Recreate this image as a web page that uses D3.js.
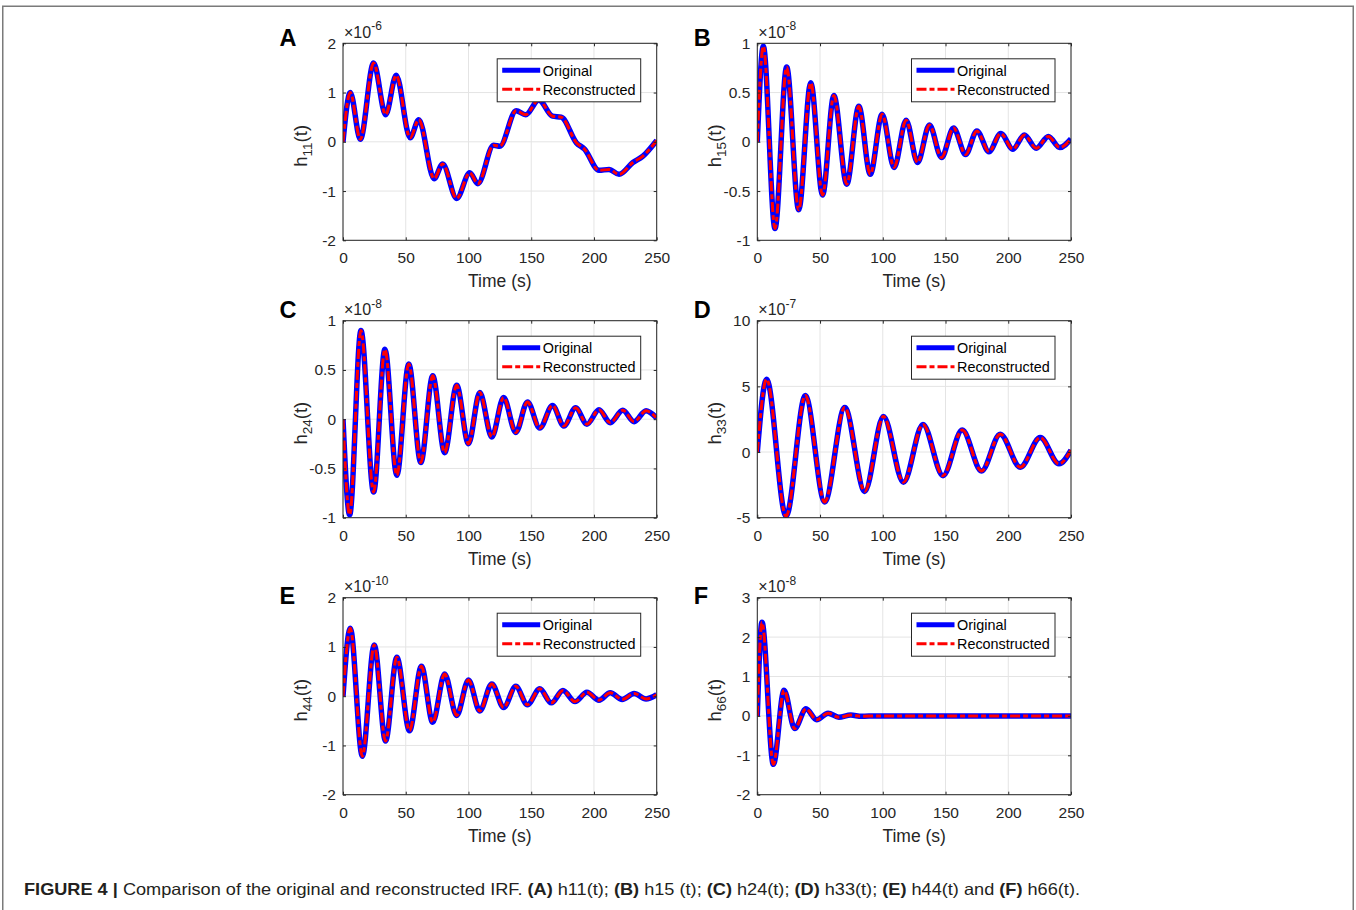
<!DOCTYPE html>
<html><head><meta charset="utf-8">
<script src="https://cdn.jsdelivr.net/npm/d3@7"></script>
<style>body{margin:0;background:#fff}svg{display:block}text{font-family:"Liberation Sans",Arial,sans-serif}</style>
</head><body><svg id="c" width="1356" height="910"></svg>
<script>
// ---------- data (values in units of the panel exponent) ----------
const timeTicks = [0, 50, 100, 150, 200, 250];
const h11 = [[0,0],[5.8,1.0],[13.8,0.05],[24.4,1.6],[34,0.55],[42.4,1.35],[53.5,0.08],[60.4,0.45],[72.6,-0.75],[79.4,-0.45],[90.6,-1.15],[101,-0.63],[107.5,-0.85],[120,-0.07],[125,-0.09],[138,0.63],[145.6,0.55],[156,0.85],[167,0.52],[174,0.5],[186,-0.02],[192.5,-0.15],[204,-0.58],[212,-0.56],[220,-0.66],[231,-0.42],[239,-0.29],[250,0.03]];
const h15 = [[0,0],[4.8,0.97],[14.1,-0.88],[23.4,0.76],[33,-0.69],[42.6,0.60],[52,-0.54],[61,0.47],[71.3,-0.43],[80.9,0.36],[90,-0.33],[99.5,0.28],[109,-0.26],[118.6,0.22],[127.7,-0.21],[137.2,0.17],[146.8,-0.16],[156.4,0.14],[166,-0.13],[175,0.11],[184.6,-0.10],[194,0.085],[203.7,-0.075],[212.8,0.07],[222.3,-0.065],[232,0.055],[241,-0.058],[250,0.03]];
const h24 = [[0,0],[5.3,-0.97],[14.3,0.90],[24.4,-0.74],[33.4,0.71],[42.9,-0.57],[52.4,0.56],[62,-0.44],[71.5,0.44],[81,-0.34],[90.6,0.345],[100,-0.25],[109,0.27],[118.6,-0.18],[128,0.22],[137.7,-0.135],[147,0.175],[156.8,-0.09],[167,0.14],[176,-0.07],[185.4,0.115],[194.4,-0.05],[204,0.095],[213,-0.035],[223,0.09],[232,-0.025],[241.5,0.085],[250,0.01]];
const h33 = [[0,0],[7.4,5.55],[22.9,-4.9],[38.3,4.3],[53.7,-3.8],[69.7,3.4],[85.6,-3.0],[100.5,2.7],[116.5,-2.3],[132,2.1],[148,-1.8],[163.3,1.67],[178.7,-1.44],[193.6,1.36],[209.6,-1.16],[225.5,1.1],[240.4,-0.9],[250,0.15]];
const h44 = [[0,0],[5.8,1.38],[15.4,-1.22],[24.9,1.04],[33.9,-0.91],[42.9,0.79],[53,-0.70],[62.5,0.61],[71.5,-0.53],[81,0.45],[90.6,-0.39],[100,0.33],[109,-0.30],[118.6,0.25],[128,-0.23],[137.7,0.20],[147,-0.175],[156.8,0.15],[166,-0.135],[175.3,0.115],[184.9,-0.11],[194.4,0.08],[204,-0.08],[213,0.07],[222.5,-0.065],[232,0.055],[241.5,-0.055],[250,0.03]];
const h66 = [[0,0],[3.7,2.38],[12.8,-1.23],[21.3,0.65],[29.8,-0.32],[38.8,0.18],[47.3,-0.10],[56.4,0.07],[65,-0.035],[74.5,0.02],[83,-0.01],[95,0],[250,0]];
const yTicksA = [-2,-1,0,1,2];
const yTicksB = [-1,-0.5,0,0.5,1];
const yTicksC = [-1,-0.5,0,0.5,1];
const yTicksD = [-5,0,5,10];
const yTicksE = [-2,-1,0,1,2];
const yTicksF = [-2,-1,0,1,2,3];
const seriesNames = ["Original","Reconstructed"];
const panelLetters = ["A","B","C","D","E","F"];
const subscripts = ["11","15","24","33","44","66"];
const exponents = ["-6","-8","-8","-7","-10","-8"];
const yDomains = [[-2,2],[-1,1],[-1,1],[-5,10],[-2,2],[-2,3]];
const seriesData = [h11,h15,h24,h33,h44,h66];
const yTickSets = [yTicksA,yTicksB,yTicksC,yTicksD,yTicksE,yTicksF];

// ---------- layout ----------
const colX = [343, 757.3], rowY = [43.3, 320.7, 597.7];
const W = 313.7, H = 197;
const letterBase = [46, 46, 318.3, 318.3, 604.3, 604.3];
const axisColor = "#262626";
const redDash = "10,3,5,3";

const svg = d3.select("#c");
// outer frame
svg.append("path").attr("d","M2.75,910 V6.25 H1353.25 V910")
  .attr("fill","none").attr("stroke","#7a7a7a").attr("stroke-width",1.5);

const fmt = d => String(d);

panelLetters.forEach((L, i) => {
  const x0 = colX[i % 2], y0 = rowY[Math.floor(i / 2)];
  const g = svg.append("g").attr("transform", `translate(${x0},${y0})`);
  const x = d3.scaleLinear().domain([0, 250]).range([0, W]);
  const y = d3.scaleLinear().domain(yDomains[i]).range([H, 0]);

  // grid
  g.append("g").selectAll("line").data(timeTicks).join("line")
    .attr("x1", d => x(d)).attr("x2", d => x(d)).attr("y1", 0).attr("y2", H)
    .attr("stroke", "#e4e4e4").attr("stroke-width", 1);
  g.append("g").selectAll("line").data(yTickSets[i]).join("line")
    .attr("y1", d => y(d)).attr("y2", d => y(d)).attr("x1", 0).attr("x2", W)
    .attr("stroke", "#e4e4e4").attr("stroke-width", 1);

  // clip
  const cid = "clip" + i;
  g.append("clipPath").attr("id", cid).append("rect").attr("width", W).attr("height", H);
  const line = d3.line().x(d => x(d[0])).y(d => y(d[1])).curve(d3.curveMonotoneX);
  const lg = g.append("g").attr("clip-path", `url(#${cid})`);
  lg.append("path").attr("d", line(seriesData[i])).attr("fill", "none")
    .attr("stroke", "#0000ff").attr("stroke-width", 5.5).attr("stroke-linejoin", "round");
  lg.append("path").attr("d", line(seriesData[i])).attr("fill", "none")
    .attr("stroke", "#ff0000").attr("stroke-width", 3).attr("stroke-dasharray", redDash);

  // axes
  const ax = (gen, tr, labels) => {
    const a = g.append("g").attr("transform", tr).call(gen);
    a.select(".domain").remove();
    a.selectAll(".tick line").attr("stroke", axisColor);
    a.selectAll("text").attr("fill", axisColor).attr("font-size", 15.5)
      .attr("font-family", '"Liberation Sans",Arial,sans-serif');
    if (!labels) a.selectAll("text").remove();
    return a;
  };
  ax(d3.axisBottom(x).tickValues(timeTicks).tickFormat(fmt).tickSize(-3).tickPadding(12), `translate(0,${H})`, true);
  ax(d3.axisTop(x).tickValues(timeTicks).tickSize(-3), `translate(0,0)`, false);
  ax(d3.axisLeft(y).tickValues(yTickSets[i]).tickFormat(fmt).tickSize(-3).tickPadding(7), `translate(0,0)`, true);
  ax(d3.axisRight(y).tickValues(yTickSets[i]).tickSize(-3), `translate(${W},0)`, false);
  g.append("rect").attr("width", W).attr("height", H).attr("fill", "none")
    .attr("stroke", axisColor).attr("stroke-width", 1);

  // exponent
  const ex = g.append("text").attr("x", 1).attr("y", -5.5).attr("font-size", 16).attr("fill", axisColor);
  ex.append("tspan").text("\u00d710");
  ex.append("tspan").attr("dy", -7.5).attr("font-size", 12).text(exponents[i]);

  // x label
  g.append("text").attr("x", W / 2).attr("y", H + 47).attr("text-anchor", "middle")
    .attr("font-size", 17.5).attr("fill", axisColor).text("Time (s)");
  // y label
  const yl = g.append("text").attr("transform", `translate(-36.5,${H / 2 + 4}) rotate(-90)`)
    .attr("text-anchor", "middle").attr("font-size", 18.5).attr("fill", axisColor);
  yl.append("tspan").text("h");
  yl.append("tspan").attr("dy", 5.5).attr("font-size", 13.5).text(subscripts[i]);
  yl.append("tspan").attr("dy", -5.5).text("(t)");

  // legend
  const lgx = W - 159.5, lgy = 15.5;
  const leg = g.append("g").attr("transform", `translate(${lgx},${lgy})`);
  leg.append("rect").attr("width", 143.5).attr("height", 43).attr("fill", "#fff")
    .attr("stroke", axisColor).attr("stroke-width", 1);
  leg.append("line").attr("x1", 5).attr("x2", 43).attr("y1", 11.5).attr("y2", 11.5)
    .attr("stroke", "#0000ff").attr("stroke-width", 5);
  leg.append("line").attr("x1", 5).attr("x2", 43).attr("y1", 30.5).attr("y2", 30.5)
    .attr("stroke", "#ff0000").attr("stroke-width", 3).attr("stroke-dasharray", redDash);
  seriesNames.forEach((n, k) => {
    leg.append("text").attr("x", 45.5).attr("y", 16.8 + k * 19).attr("font-size", 14.4)
      .attr("fill", "#000").text(n);
  });

  // panel letter
  svg.append("text").attr("x", x0 - 63.5).attr("y", letterBase[i]).attr("font-size", 23.5)
    .attr("font-weight", "bold").attr("fill", "#000").text(L);
});

// caption
const cap = svg.append("text").attr("x", 24).attr("y", 895).attr("font-size", 16.5).attr("fill", "#231f20")
  .attr("textLength", 1056).attr("lengthAdjust", "spacingAndGlyphs");
const parts = [["FIGURE 4 | ",1],["Comparison of the original and reconstructed IRF. ",0],["(A)",1],[" h11(t); ",0],["(B)",1],[" h15 (t); ",0],["(C)",1],[" h24(t); ",0],["(D)",1],[" h33(t); ",0],["(E)",1],[" h44(t) and ",0],["(F)",1],[" h66(t).",0]];
parts.forEach(([t, b]) => cap.append("tspan").attr("font-weight", b ? "bold" : "normal").text(t));
</script></body></html>
